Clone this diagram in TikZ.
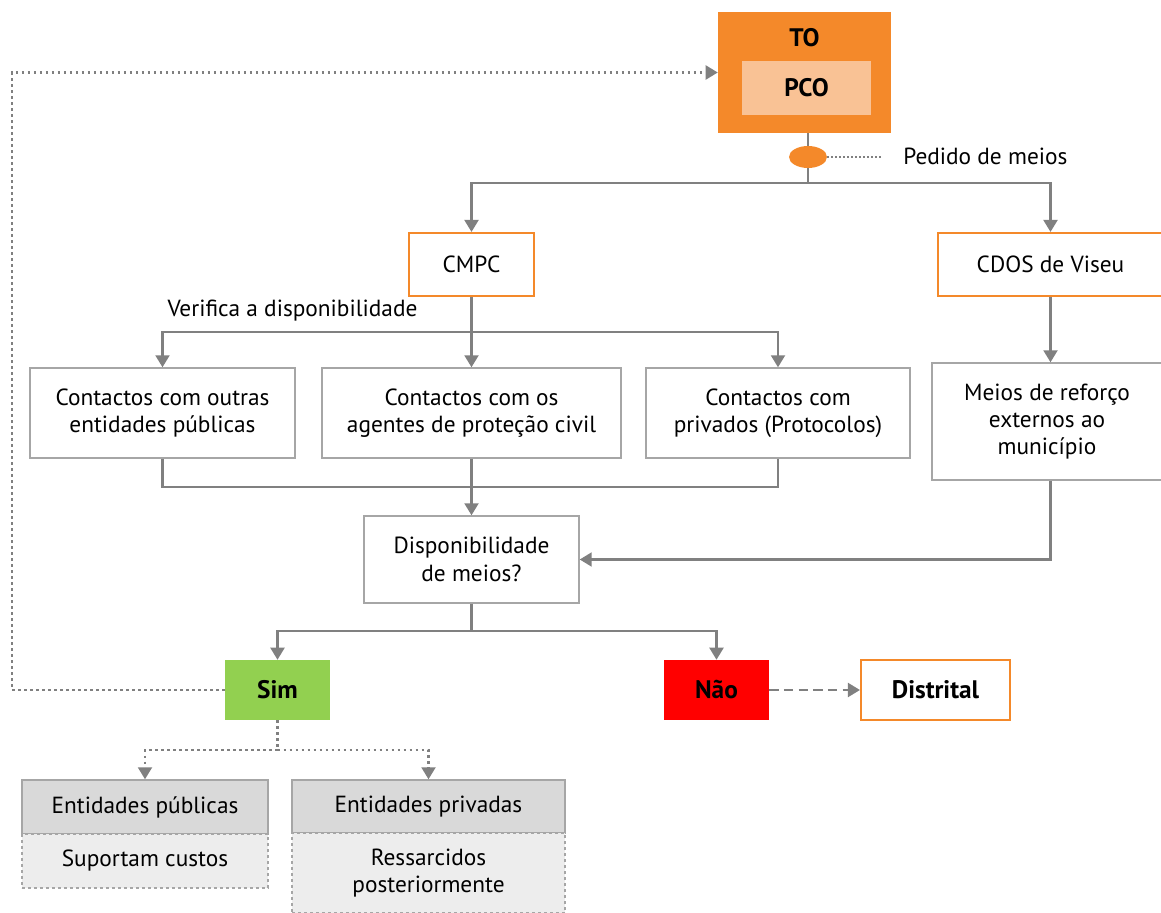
\documentclass[tikz,border=0pt]{standalone}
\usepackage{fontspec}
\setmainfont{PT Sans}
\usetikzlibrary{arrows.meta,shapes.geometric}
\definecolor{tangerine}{HTML}{F4892A}
\definecolor{peach}{HTML}{F9C295}
\definecolor{simgreen}{HTML}{92D050}
\definecolor{linegray}{HTML}{808080}
\definecolor{boxgray}{HTML}{A6A6A6}
\definecolor{headgray}{HTML}{D9D9D9}
\definecolor{bodygray}{HTML}{EDEDED}
\def\px{0.75pt}
\begin{document}
\begin{tikzpicture}[x=\px, y=-\px, >={Triangle[length=9pt,width=10.5pt]},
    font=\fontsize{17.5}{20.5}\selectfont,
    box/.style={draw=boxgray, line width=1.1pt, fill=white, align=center, inner sep=0pt},
    obox/.style={draw=tangerine, line width=1.6pt, fill=white, align=center, inner sep=0pt},
    flag/.style={align=center, inner sep=0pt, font=\fontsize{19}{22}\selectfont\bfseries},
    link/.style={draw=linegray, line width=1.6pt},
    dots/.style={draw=linegray, line width=1.6pt, dash pattern=on 2pt off 2.5pt}]
    \useasboundingbox (0,0) rectangle (1161,913);
    % top
    \node[fill=tangerine, minimum width=173*\px, minimum height=121*\px] (TO) at (804.5,72.5) {};
    \node[flag] (tolabel) at (804.5,38) {TO};
    \node[flag, fill=peach, minimum width=129*\px, minimum height=54*\px] (PCO) at (806.5,88) {PCO};
    \node[ellipse, fill=tangerine, inner sep=0pt, minimum width=38*\px, minimum height=22*\px] (req) at (808,157) {};
    \node[anchor=west, inner sep=0pt] (reqlabel) at (903,156) {Pedido de meios};
    \coordinate (reqend) at (882,157);
    \coordinate (split1) at (808,183);
    \node[obox, minimum width=125*\px, minimum height=63*\px] (cmpc) at (471.5,264.5) {CMPC};
    \node[obox, minimum width=225*\px, minimum height=63*\px] (cdos) at (1050.5,264.5) {CDOS de Viseu};
    % contactos
    \node[inner sep=0pt] (verif) at (292.5,311) {Verifica a disponibilidade};
    \coordinate (split2) at (471.5,332);
    \node[box, minimum width=265*\px, minimum height=90*\px] (conta) at (162.5,413) {Contactos com outras\\entidades públicas};
    \node[box, minimum width=299*\px, minimum height=90*\px] (contb) at (471.5,413) {Contactos com os\\agentes de proteção civil};
    \node[box, minimum width=264*\px, minimum height=90*\px] (contc) at (778,413) {Contactos com\\privados (Protocolos)};
    \node[box, minimum width=230*\px, minimum height=117*\px] (meios) at (1047,421.5) {Meios de reforço\\externos ao\\município};
    \coordinate (join1) at (471.5,487);
    \node[box, minimum width=215*\px, minimum height=87*\px] (disp) at (471.5,559.5) {Disponibilidade\\de meios?};
    \coordinate (split3) at (471.5,631);
    % decisao
    \node[flag, fill=simgreen, minimum width=105*\px, minimum height=60*\px] (sim) at (277.5,690) {Sim};
    \node[flag, fill=red, minimum width=105*\px, minimum height=60*\px] (nao) at (716.5,690) {Não};
    \node[obox, font=\fontsize{19}{22}\selectfont\bfseries, minimum width=149*\px, minimum height=60*\px] (distrital) at (935.5,690) {Distrital};
    \coordinate (back) at (12,72.5);
    \coordinate (split4) at (277.5,750);
    \node[box, fill=headgray, minimum width=246*\px, minimum height=54*\px] (entpub) at (145,807) {Entidades públicas};
    \node[box, dots, draw=boxgray, line width=1.1pt, fill=bodygray, minimum width=246*\px, minimum height=54*\px] (custos) at (145,861) {Suportam custos};
    \node[box, fill=headgray, minimum width=273*\px, minimum height=53*\px] (entpriv) at (428.5,806.5) {Entidades privadas};
    \node[box, dots, draw=boxgray, line width=1.1pt, fill=bodygray, minimum width=273*\px, minimum height=80*\px] (ressarc) at (428.5,873) {Ressarcidos\\posteriormente};
    % ligacoes
    \draw[link] (req) -- (req |- TO.south);
    \draw[link] (req) -- (split1);
    \draw[dots, line width=1pt, dash pattern=on 1.5pt off 1.5pt] (req.east) -- (reqend);
    \draw[link, ->] (split1) -| (cmpc.north);
    \draw[link, ->] (split1) -| (cdos.north);
    \draw[link] (cmpc.south) -- (split2);
    \draw[link, ->] (split2) -| (conta.north);
    \draw[link, ->] (split2) -- (contb.north);
    \draw[link, ->] (split2) -| (contc.north);
    \draw[link] (conta.south) |- (join1);
    \draw[link] (contc.south) |- (join1);
    \draw[link, ->] (contb.south) -- (disp.north);
    \draw[link, ->] (cdos.south) -- (cdos.south |- meios.north);
    \draw[link, ->] (cdos.south |- meios.south) |- (disp.east);
    \draw[link] (disp.south) -- (split3);
    \draw[link, ->] (split3) -| (sim.north);
    \draw[link, ->] (split3) -| (nao.north);
    \draw[link, dash pattern=on 7pt off 4pt, ->] (nao.east) -- (distrital.west);
    \draw[dots, ->] (sim.west) -| (back) -- (TO.west);
    \draw[dots] (sim.south) -- (split4);
    \draw[dots, ->] (split4) -| (entpub.north);
    \draw[dots, ->] (split4) -| (entpriv.north);
\end{tikzpicture}
\end{document}
